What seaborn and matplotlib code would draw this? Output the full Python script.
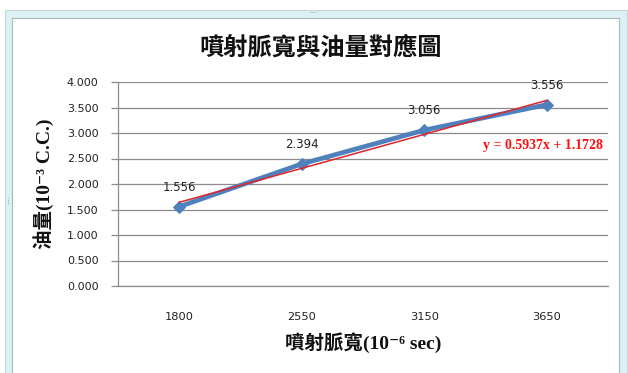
import matplotlib
matplotlib.use("Agg")
import matplotlib.pyplot as plt
from matplotlib.patches import Rectangle
import numpy as np
import pandas as pd
import seaborn as sns

# Injection pulse width (10^-6 sec) and fuel quantity (10^-3 c.c.)
pulse_width = ["1800", "2550", "3150", "3650"]
fuel_qty = [1.556, 2.394, 3.056, 3.556]
trend_label = "y = 0.5937x + 1.1728"

title = "噴射脈寬與油量對應圖"
xlabel = "噴射脈寬(10⁻⁶ sec)"
ylabel = "油量(10⁻³ C.C.)"
yticks = [0.0, 0.5, 1.0, 1.5, 2.0, 2.5, 3.0, 3.5, 4.0]

sns.set_theme(style="white")
plt.rcParams["font.family"] = ["Noto Sans CJK TC", "DejaVu Sans"]
label_family = ["Liberation Serif", "Noto Sans CJK TC", "DejaVu Serif"]

W, H = 628, 373
fig = plt.figure(figsize=(W / 100, H / 100), dpi=100)
fig.patch.set_facecolor("white")

# window-style frame around the chart
frame_col = "#dcf1f3"
edge_col = "#a9b8bc"
def px_rect(x0, y0, x1, y1, **kw):
    fig.patches.append(Rectangle((x0 / W, 1 - y1 / H), (x1 - x0) / W, (y1 - y0) / H,
                                 transform=fig.transFigure, figure=fig, **kw))
px_rect(5, 10, 627, 18, facecolor=frame_col, edgecolor="none")
px_rect(5, 10, 12, 380, facecolor=frame_col, edgecolor="none")
px_rect(619, 10, 627, 380, facecolor=frame_col, edgecolor="none")
px_rect(5, 10, 627, 380, facecolor="none", edgecolor="#c6d6d8", linewidth=0.8)
px_rect(12, 18, 619, 380, facecolor="none", edgecolor=edge_col, linewidth=0.8)
fig.text(314 / W, 1 - 13.5 / H, "····", ha="center", va="center", fontsize=5, color="#7f8c8f",
         family="DejaVu Sans")
fig.text(9 / W, 1 - 200 / H, "····", ha="center", va="center", fontsize=5, color="#7f8c8f",
         rotation=90, family="DejaVu Sans")

ax = fig.add_axes([118 / W, 1 - 286 / H, 490 / W, 204 / H])
df = pd.DataFrame({"pulse": pulse_width, "qty": fuel_qty, "pos": np.arange(len(pulse_width))})

# linear trendline over category positions
sns.regplot(data=df, x="pos", y="qty", ax=ax, scatter=False, ci=None, truncate=True,
            line_kws=dict(color="#e0242b", linewidth=1.1, zorder=4))
sns.lineplot(data=df, x="pos", y="qty", ax=ax, color="#4f81bd", linewidth=3.4,
             marker="D", markersize=6.5, markeredgecolor="#4f81bd", zorder=3)

for i, v in enumerate(fuel_qty):
    ax.annotate(f"{v:.3f}", (i, v), xytext=(0, 13), textcoords="offset pixels",
                ha="center", va="bottom", fontsize=8.5, color="#222222", family="DejaVu Sans")

ax.text(0.99, 0.69, trend_label, transform=ax.transAxes, ha="right", va="center",
        fontsize=10, fontweight="bold", color="#ff1010", family="Liberation Serif")

ax.set_xlim(-0.5, 3.5)
ax.set_ylim(0, 4)
ax.set_xticks(range(len(pulse_width)))
ax.set_xticklabels(pulse_width, family="DejaVu Sans", fontsize=8.2, color="#222222")
ax.set_yticks(yticks)
ax.set_yticklabels([f"{t:.3f}" for t in yticks], family="DejaVu Sans", fontsize=8, color="#222222")
ax.yaxis.grid(True, color="#8c8c8c", linewidth=0.9)
ax.xaxis.grid(False)
ax.tick_params(axis="y", which="major", length=5, width=0.9, color="#8c8c8c", pad=9, left=True)
ax.tick_params(axis="x", length=0, pad=19)
for s in ["top", "right"]:
    ax.spines[s].set_visible(False)
ax.spines["left"].set_color("#8c8c8c")
ax.spines["bottom"].set_color("#8c8c8c")
ax.spines["left"].set_linewidth(0.9)
ax.spines["bottom"].set_linewidth(0.9)

ax.set_xlabel(xlabel, fontsize=14, fontweight="bold", color="#111111", family=label_family)
ax.xaxis.set_label_coords(0.5, (286 - 343) / 204)
ax.xaxis.label.set_va("center")
ax.set_ylabel(ylabel, fontsize=14, fontweight="bold", color="#111111", family=label_family)
ax.yaxis.set_label_coords((44 - 118) / 490, 0.5)
ax.yaxis.label.set_va("center")

fig.text(321 / W, 1 - 47.5 / H, title, ha="center", va="center", fontsize=17.5,
         fontweight="bold", color="#111111")

fig.savefig("out.png", dpi=100, facecolor="white")
